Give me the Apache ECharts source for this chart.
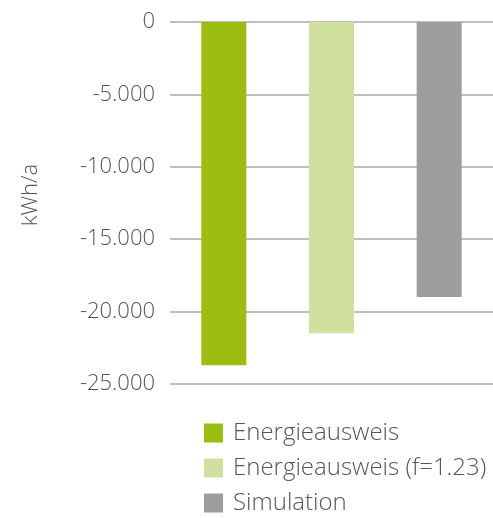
<!DOCTYPE html>
<html>
<head>
<meta charset="utf-8">
<script src="https://cdn.jsdelivr.net/npm/echarts@6/dist/echarts.min.js"></script>
<style>
  html, body { margin: 0; padding: 0; background: #fff; }
  #chart { width: 493px; height: 518px; }
</style>
</head>
<body>
<div id="chart"></div>
<script>
// Jahresenergie je Variante, kWh/a (negativ = Bedarf)
const categories = ['Energieausweis', 'Energieausweis (f=1.23)', 'Simulation']
const values = [-23700, -21500, -19000]
const colors = ['#9bbd10', '#d0e09d', '#9d9d9f']

const font = 'Open Sans'
const fmt = (v) => v === 0 ? '0' : (v < 0 ? '-' : '') + Math.abs(v).toLocaleString('de-DE')

// eine Serie je Variante, damit die Legende drei Einträge hat
const series = categories.map((name, i) => ({
  name,
  type: 'bar',
  barWidth: 45,
  barGap: '-100%',
  data: categories.map((_, j) => (j === i ? values[i] : '-')),
  itemStyle: { color: colors[i] },
}))

const chart = echarts.init(document.getElementById('chart'))
chart.setOption({
  animation: false,
  textStyle: { fontFamily: font },
  grid: { left: 170, top: 22, width: 327, bottom: 134 },
  legend: {
    orient: 'vertical', left: 204, top: 421, bottom: 0, padding: 0,
    itemWidth: 19, itemHeight: 19, itemGap: 11,
    icon: 'rect',
    textStyle: { fontFamily: font, fontWeight: 300, fontSize: 24, color: '#555', padding: [0, 0, 0, 5] },
    data: categories,
  },
  xAxis: {
    type: 'category', data: categories,
    axisLine: { show: false }, axisTick: { show: false }, axisLabel: { show: false },
  },
  yAxis: {
    type: 'value', min: -25000, max: 0, interval: 5000,
    name: 'kWh/a', nameLocation: 'middle', nameGap: 128, nameRotate: 90,
    nameTextStyle: { fontFamily: font, fontWeight: 300, fontSize: 22, color: '#555', padding: [0, 0, 0, 16] },
    axisLine: { show: false }, axisTick: { show: false },
    axisLabel: { formatter: fmt, margin: 15, fontFamily: font, fontWeight: 300, fontSize: 22, color: '#555' },
    splitLine: { lineStyle: { color: '#aaa', width: 1.5 } },
  },
  series,
})
</script>
</body>
</html>
